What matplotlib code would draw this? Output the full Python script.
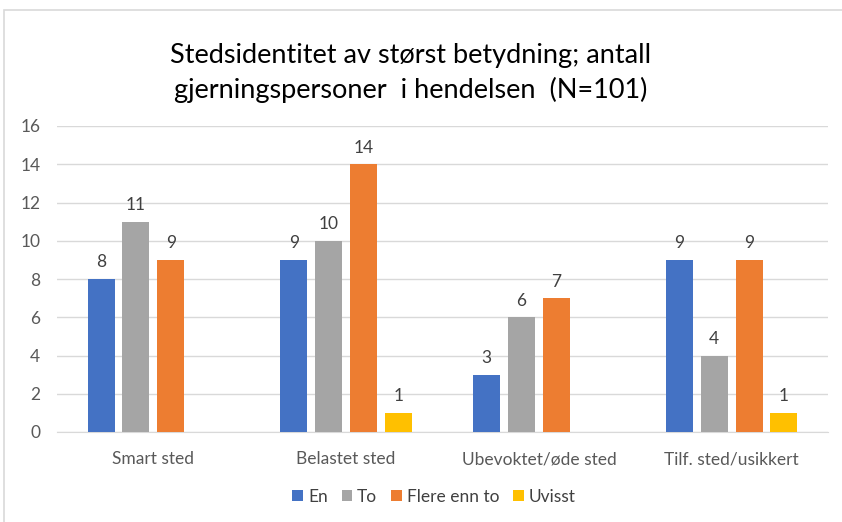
import numpy as np
import matplotlib.pyplot as plt
from matplotlib.patches import Rectangle

plt.rcParams['font.family'] = ['Lato', 'DejaVu Sans']

# Data
categories = ['Smart sted', 'Belastet sted', 'Ubevoktet/øde sted', 'Tilf. sted/usikkert']
series_names = ['En', 'To', 'Flere enn to', 'Uvisst']
en = [8, 9, 3, 9]
to = [11, 10, 6, 4]
flere = [9, 14, 7, 9]
uvisst = [0, 1, 0, 1]
colors = ['#4472C4', '#A5A5A5', '#ED7D31', '#FFC000']

fig = plt.figure(figsize=(8.42, 5.22), dpi=100)
ax = fig.add_axes([57 / 842, 1 - 432 / 522, 771 / 842, 306 / 522])

# light border round the chart
fig.patches.append(Rectangle((4 / 842, -0.05), 1.0, 1 - 10 / 522 + 0.05,
                             transform=fig.transFigure, fill=False,
                             edgecolor='#D9D9D9', linewidth=1.2))

x = np.arange(len(categories))
step = 0.181
width = 0.14
for i, (vals, name, c) in enumerate(zip([en, to, flere, uvisst], series_names, colors)):
    pos = x + (i - 1.5) * step
    bars = ax.bar(pos, vals, width, color=c, label=name, zorder=3)
    for b, v in zip(bars, vals):
        if v > 0:
            ax.text(b.get_x() + b.get_width() / 2, v + 0.45, str(v),
                    ha='center', va='bottom', fontsize=12.5, color='#404040')

ax.set_xlim(-0.5, 3.5)
ax.set_ylim(0, 16)
ax.set_yticks(range(0, 17, 2))
ax.set_xticks(x)
ax.set_xticklabels(categories)
ax.grid(axis='y', color='#D9D9D9', linewidth=1, zorder=0)
for s in ['top', 'right', 'left']:
    ax.spines[s].set_visible(False)
ax.spines['bottom'].set_color('#D9D9D9')
ax.tick_params(axis='both', length=0, labelsize=12.5, colors='#595959')
ax.tick_params(axis='x', pad=14)
ax.tick_params(axis='y', pad=12)

fig.text(411 / 842, 1 - 73 / 522,
         'Stedsidentitet av størst betydning; antall\ngjerningspersoner  i hendelsen  (N=101)',
         ha='center', va='center', fontsize=19.5, color='#000000', linespacing=1.4)

ax.legend(loc='center', bbox_to_anchor=(434 / 842, 1 - 497 / 522),
          bbox_transform=fig.transFigure, ncol=4, frameon=False,
          fontsize=12.5, handlelength=0.6, handleheight=0.6,
          handletextpad=0.3, columnspacing=0.8, labelcolor='#404040')

fig.savefig('out.png', dpi=100, facecolor='white')
